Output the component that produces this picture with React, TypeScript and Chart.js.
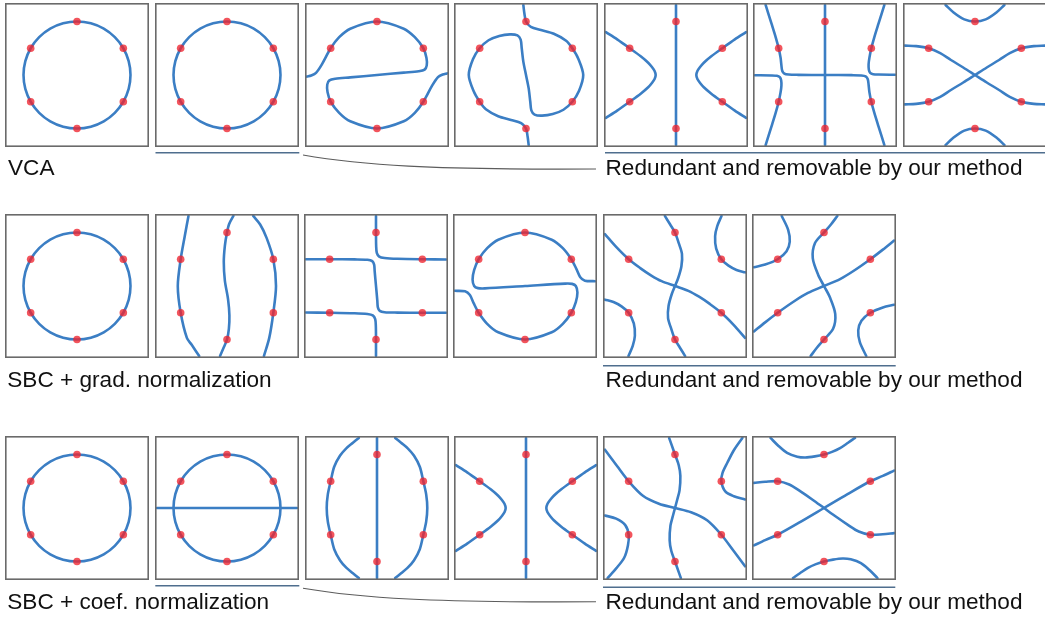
import React, { useEffect, useRef } from 'react';
import { Chart, registerables } from 'chart.js';

Chart.register(...registerables);

// ---------- data (unit: circle through the six sample points has radius 1) ----------
const HEX_POINTS = [[0, 1], [0.866, 0.5], [0.866, -0.5], [0, -1], [-0.866, -0.5], [-0.866, 0.5]];

const CIRCLE = [
  [0, 1], [0.259, 0.966], [0.5, 0.866], [0.707, 0.707], [0.866, 0.5], [0.966, 0.259],
  [1, 0], [0.966, -0.259], [0.866, -0.5], [0.707, -0.707], [0.5, -0.866], [0.259, -0.966],
  [0, -1], [-0.259, -0.966], [-0.5, -0.866], [-0.707, -0.707], [-0.866, -0.5], [-0.966, -0.259],
  [-1, 0], [-0.966, 0.259], [-0.866, 0.5], [-0.707, 0.707], [-0.5, 0.866], [-0.259, 0.966],
];

const H_LINE = [[-1.31, 0], [1.31, 0]];
const V_LINE = [[0, 1.31], [0, -1.31]];

const R1P3 = [
  [-1.31, -0.03], [-1.23, -0.01], [-1.14, 0.04], [-1.03, 0.2], [-0.866, 0.5], [-0.707, 0.707], [-0.5, 0.866], [0, 1],
  [0.5, 0.866], [0.707, 0.707], [0.866, 0.5], [0.925, 0.32], [0.93, 0.18], [0.89, 0.1], [0.78, 0.07], [0.5, 0.045],
  [0, 0], [-0.5, -0.045], [-0.78, -0.07], [-0.89, -0.1], [-0.93, -0.18], [-0.925, -0.32],
  [-0.866, -0.5], [-0.707, -0.707], [-0.5, -0.866], [0, -1], [0.5, -0.866], [0.707, -0.707], [0.866, -0.5], [1.03, -0.2], [1.14, -0.04],
  [1.23, 0.01], [1.31, 0.03],
];

const R1P4 = [
  [-0.05, 1.31], [-0.03, 1.15], [0, 1], [0.09, 0.9], [0.28, 0.84], [0.52, 0.77], [0.75, 0.64],
  [0.866, 0.5], [0.98, 0.3], [1.07, 0], [0.99, -0.3], [0.866, -0.5], [0.7, -0.65], [0.5, -0.73],
  [0.3, -0.76], [0.16, -0.74], [0.1, -0.66], [0.08, -0.5], [0.05, -0.25], [0, 0], [-0.05, 0.25],
  [-0.08, 0.5], [-0.1, 0.66], [-0.16, 0.74], [-0.3, 0.76], [-0.5, 0.73], [-0.7, 0.65], [-0.866, 0.5],
  [-0.99, 0.3], [-1.07, 0], [-0.98, -0.3], [-0.866, -0.5], [-0.75, -0.64], [-0.52, -0.77],
  [-0.28, -0.84], [-0.09, -0.9], [0, -1], [0.03, -1.15], [0.05, -1.31],
];

const HYP_L = [
  [-1.31, 0.8], [-1.1, 0.665], [-0.866, 0.5], [-0.66, 0.35], [-0.52, 0.23], [-0.45, 0.15], [-0.4, 0.075], [-0.38, 0],
  [-0.4, -0.075], [-0.45, -0.15], [-0.52, -0.23], [-0.66, -0.35], [-0.866, -0.5], [-1.1, -0.665], [-1.31, -0.8],
];
const HYP_R = [
  [1.31, 0.8], [1.1, 0.665], [0.866, 0.5], [0.66, 0.35], [0.52, 0.23], [0.45, 0.15], [0.4, 0.075], [0.38, 0],
  [0.4, -0.075], [0.45, -0.15], [0.52, -0.23], [0.66, -0.35], [0.866, -0.5], [1.1, -0.665], [1.31, -0.8],
];

const R1P6_A = [
  [-1.11, 1.31], [-1.0, 0.96], [-0.92, 0.7], [-0.866, 0.5], [-0.83, 0.32], [-0.815, 0.18], [-0.8, 0.08],
  [-0.76, 0.025], [-0.68, 0.008], [-0.5, 0.003], [0, 0], [0.5, -0.003], [0.68, -0.008], [0.76, -0.025],
  [0.8, -0.08], [0.815, -0.18], [0.83, -0.32], [0.866, -0.5], [0.92, -0.7], [1.0, -0.96], [1.11, -1.31],
];
const R1P6_B = [
  [-1.31, -0.005], [-1.0, -0.008], [-0.9, -0.015], [-0.845, -0.04], [-0.82, -0.1], [-0.815, -0.2],
  [-0.83, -0.32], [-0.866, -0.5], [-0.92, -0.7], [-1.0, -0.96], [-1.11, -1.31],
];
const R1P6_C = [
  [1.31, 0.005], [1.0, 0.008], [0.9, 0.015], [0.845, 0.04], [0.82, 0.1], [0.815, 0.2],
  [0.83, 0.32], [0.866, 0.5], [0.92, 0.7], [1.0, 0.96], [1.11, 1.31],
];

const R1P7_TOP = [[-0.55, 1.31], [-0.4, 1.17], [-0.2, 1.04], [0, 1], [0.2, 1.04], [0.4, 1.17], [0.55, 1.31]];
const R1P7_BOT = [[-0.55, -1.31], [-0.4, -1.17], [-0.2, -1.04], [0, -1], [0.2, -1.04], [0.4, -1.17], [0.55, -1.31]];
const R1P7_X1 = [
  [-1.31, 0.55], [-1.1, 0.54], [-0.866, 0.5], [-0.65, 0.41], [-0.45, 0.28], [-0.22, 0.14], [0, 0],
  [0.22, -0.14], [0.45, -0.28], [0.65, -0.41], [0.866, -0.5], [1.1, -0.54], [1.31, -0.55],
];
const R1P7_X2 = [
  [-1.31, -0.55], [-1.1, -0.54], [-0.866, -0.5], [-0.65, -0.41], [-0.45, -0.28], [-0.22, -0.14], [0, 0],
  [0.22, 0.14], [0.45, 0.28], [0.65, 0.41], [0.866, 0.5], [1.1, 0.54], [1.31, 0.55],
];

const R2P2_L = [[-0.72, 1.31], [-0.79, 0.93], [-0.866, 0.5], [-0.92, 0], [-0.866, -0.5], [-0.75, -0.97], [-0.66, -1.1], [-0.52, -1.31]];
const R2P2_M = [
  [0.12, 1.31], [0.04, 1.16], [0, 1], [-0.04, 0.75], [-0.06, 0.45], [-0.04, 0.1], [0.02, -0.25],
  [0.045, -0.55], [0.035, -0.8], [0, -1], [-0.07, -1.17], [-0.13, -1.31],
];
const R2P2_R = [[0.49, 1.31], [0.62, 1.15], [0.74, 0.9], [0.866, 0.5], [0.916, 0], [0.866, -0.5], [0.79, -0.97], [0.69, -1.31]];

const R2P3_A = [
  [-1.31, 0.5], [-0.866, 0.5], [-0.4, 0.497], [-0.16, 0.49], [-0.07, 0.465], [-0.035, 0.4], [-0.025, 0.28],
  [0, 0], [0.025, -0.28], [0.035, -0.4], [0.07, -0.465], [0.16, -0.49], [0.4, -0.497], [0.866, -0.5], [1.31, -0.5],
];
const R2P3_B = [[0, 1.31], [0, 1], [0.003, 0.75], [0.015, 0.62], [0.06, 0.55], [0.16, 0.525], [0.4, 0.51], [0.866, 0.5], [1.31, 0.495]];
const R2P3_C = [[0, -1.31], [0, -1], [-0.003, -0.75], [-0.015, -0.62], [-0.06, -0.55], [-0.16, -0.525], [-0.4, -0.51], [-0.866, -0.5], [-1.31, -0.495]];

const R2P4 = [
  [-1.31, -0.09], [-1.12, -0.1], [-1.03, -0.17], [-0.96, -0.32], [-0.866, -0.5], [-0.707, -0.707], [-0.5, -0.866], [0, -1],
  [0.5, -0.866], [0.707, -0.707], [0.866, -0.5], [0.95, -0.3], [0.98, -0.12], [0.95, 0.0], [0.88, 0.04], [0.75, 0.045],
  [0, 0], [-0.75, -0.045], [-0.88, -0.04], [-0.95, 0.0], [-0.98, 0.12], [-0.95, 0.3], [-0.866, 0.5],
  [-0.707, 0.707], [-0.5, 0.866], [0, 1], [0.5, 0.866], [0.707, 0.707], [0.866, 0.5], [0.96, 0.32], [1.03, 0.17], [1.12, 0.1], [1.31, 0.09],
];

const R2P5_D = [
  [-1.31, 0.97], [-1.1, 0.73], [-0.866, 0.5], [-0.65, 0.335], [-0.45, 0.2], [-0.25, 0.09], [0, 0],
  [0.25, -0.09], [0.45, -0.2], [0.65, -0.335], [0.866, -0.5], [1.1, -0.73], [1.31, -0.97],
];
const R2P5_S = [
  [-0.19, 1.31], [-0.09, 1.15], [0, 1], [0.07, 0.8], [0.13, 0.6], [0.12, 0.37], [0.06, 0.15], [0, 0],
  [-0.06, -0.15], [-0.12, -0.37], [-0.13, -0.6], [-0.07, -0.8], [0, -1], [0.09, -1.15], [0.19, -1.31],
];
const R2P5_UR = [[0.87, 1.31], [0.79, 1.12], [0.75, 0.93], [0.77, 0.7], [0.866, 0.5], [1.0, 0.38], [1.15, 0.3], [1.31, 0.255]];
const R2P5_LL = [[-0.87, -1.31], [-0.79, -1.12], [-0.75, -0.93], [-0.77, -0.7], [-0.866, -0.5], [-1.0, -0.38], [-1.15, -0.3], [-1.31, -0.255]];

const R2P6_D = [
  [-1.31, -0.85], [-1.1, -0.68], [-0.866, -0.5], [-0.55, -0.28], [-0.3, -0.13], [0, 0],
  [0.3, 0.13], [0.55, 0.28], [0.866, 0.5], [1.1, 0.68], [1.31, 0.85],
];
const R2P6_S = [
  [0.25, 1.31], [0.13, 1.15], [0, 1], [-0.17, 0.8], [-0.21, 0.52], [-0.11, 0.21], [0, 0],
  [0.11, -0.21], [0.21, -0.52], [0.17, -0.8], [0, -1], [-0.13, -1.15], [-0.25, -1.31],
];
const R2P6_UL = [[-0.79, 1.31], [-0.67, 1.05], [-0.64, 0.83], [-0.7, 0.65], [-0.866, 0.5], [-1.1, 0.4], [-1.31, 0.35]];
const R2P6_LR = [[0.79, -1.31], [0.67, -1.05], [0.64, -0.83], [0.7, -0.65], [0.866, -0.5], [1.1, -0.4], [1.31, -0.35]];

const R3P3_L = [
  [-0.34, 1.31], [-0.45, 1.22], [-0.57, 1.12], [-0.69, 0.98], [-0.8, 0.77], [-0.866, 0.5], [-0.92, 0.25],
  [-0.94, 0], [-0.92, -0.25], [-0.866, -0.5], [-0.8, -0.77], [-0.69, -0.98], [-0.57, -1.12], [-0.45, -1.22], [-0.34, -1.31],
];
const R3P3_R = [
  [0.34, 1.31], [0.45, 1.22], [0.57, 1.12], [0.69, 0.98], [0.8, 0.77], [0.866, 0.5], [0.92, 0.25],
  [0.94, 0], [0.92, -0.25], [0.866, -0.5], [0.8, -0.77], [0.69, -0.98], [0.57, -1.12], [0.45, -1.22], [0.34, -1.31],
];

const R3P5_D = [
  [-1.31, 1.09], [-1.08, 0.78], [-0.866, 0.5], [-0.6, 0.23], [-0.3, 0.08], [0, 0],
  [0.3, -0.08], [0.6, -0.23], [0.866, -0.5], [1.08, -0.78], [1.31, -1.09],
];
const R3P5_S = [
  [-0.11, 1.31], [-0.06, 1.17], [0, 1], [0.07, 0.8], [0.1, 0.6], [0.085, 0.33], [0.04, 0.15], [0, 0],
  [-0.04, -0.15], [-0.085, -0.33], [-0.1, -0.6], [-0.07, -0.8], [0, -1], [0.06, -1.17], [0.11, -1.31],
];
const R3P5_UR = [[1.26, 1.31], [1.1, 1.08], [0.98, 0.85], [0.89, 0.66], [0.866, 0.5], [0.94, 0.31], [1.1, 0.22], [1.31, 0.16]];
const R3P5_LL = [[-1.31, -0.14], [-1.1, -0.2], [-0.93, -0.32], [-0.866, -0.5], [-0.88, -0.7], [-0.95, -0.93], [-1.1, -1.13], [-1.26, -1.31]];

const R3P6_TOP = [
  [-1.0, 1.31], [-0.85, 1.16], [-0.69, 1.03], [-0.5, 0.96], [-0.35, 0.945], [-0.17, 0.965], [0, 1],
  [0.15, 1.05], [0.3, 1.12], [0.45, 1.22], [0.58, 1.31],
];
const R3P6_BOT = [
  [1.0, -1.31], [0.85, -1.16], [0.69, -1.03], [0.5, -0.96], [0.35, -0.945], [0.17, -0.965], [0, -1],
  [-0.15, -1.05], [-0.3, -1.12], [-0.45, -1.22], [-0.58, -1.31],
];
const R3P6_X1 = [
  [-1.31, 0.47], [-1.1, 0.49], [-0.866, 0.5], [-0.65, 0.44], [-0.44, 0.31], [-0.22, 0.16], [0, 0],
  [0.22, -0.16], [0.44, -0.31], [0.65, -0.44], [0.866, -0.5], [1.1, -0.49], [1.31, -0.47],
];
const R3P6_X2 = [
  [-1.31, -0.7], [-1.1, -0.6], [-0.866, -0.5], [-0.44, -0.26], [0, 0], [0.44, 0.26], [0.866, 0.5], [1.1, 0.6], [1.31, 0.7],
];

const ROW_LABELS = ['VCA', 'SBC + grad. normalization', 'SBC + coef. normalization'];
const NOTE_LABEL = 'Redundant and removable by our method';

// ---------- panel contents ----------
type Curve = { pts: number[][]; closed?: boolean; tension?: number };
const circ: Curve = { pts: CIRCLE, closed: true, tension: 0.18 };
const c = (pts: number[][], tension = 0.3): Curve => ({ pts, tension });

const ROWS: Curve[][][] = [
  [
    [circ],
    [circ],
    [c(R1P3)],
    [c(R1P4)],
    [c(V_LINE), c(HYP_L), c(HYP_R)],
    [c(V_LINE), c(R1P6_A), c(R1P6_B), c(R1P6_C)],
    [c(R1P7_TOP), c(R1P7_BOT), c(R1P7_X1), c(R1P7_X2)],
  ],
  [
    [circ],
    [c(R2P2_L), c(R2P2_M), c(R2P2_R)],
    [c(R2P3_A), c(R2P3_B), c(R2P3_C)],
    [c(R2P4)],
    [c(R2P5_D), c(R2P5_S), c(R2P5_UR), c(R2P5_LL)],
    [c(R2P6_D), c(R2P6_S), c(R2P6_UL), c(R2P6_LR)],
  ],
  [
    [circ],
    [circ, c(H_LINE)],
    [c(V_LINE), c(R3P3_L), c(R3P3_R)],
    [c(V_LINE), c(HYP_L), c(HYP_R)],
    [c(R3P5_D), c(R3P5_S), c(R3P5_UR), c(R3P5_LL)],
    [c(R3P6_TOP), c(R3P6_BOT), c(R3P6_X1), c(R3P6_X2)],
  ],
];

// ---------- layout ----------
const PANEL = 144;
const RANGE = 1.346;
const ROW_TOPS = [3, 214, 436];
const ROW_LEFTS = [
  [5, 155, 305, 454, 604, 753, 903],
  [5, 155, 304, 453, 603, 752],
  [5, 155, 305, 454, 603, 752],
];

const BLUE = '#3b7ec4';
const RED = 'rgba(238,36,46,0.78)';
const RULE = '#4f6e8e';

const framePlugin = {
  id: 'frame',
  afterDraw(chart: any) {
    const ctx = chart.ctx;
    ctx.save();
    ctx.strokeStyle = '#6a6a6a';
    ctx.lineWidth = 1.6;
    ctx.strokeRect(0.8, 0.8, chart.width - 1.6, chart.height - 1.6);
    ctx.restore();
  },
};

function Panel({ left, top, curves }: { left: number; top: number; curves: Curve[] }) {
  const ref = useRef<HTMLCanvasElement | null>(null);
  useEffect(() => {
    const datasets: any[] = [
      {
        data: HEX_POINTS.map(([x, y]) => ({ x, y })),
        showLine: false,
        pointRadius: 3.8,
        pointBackgroundColor: RED,
        pointBorderWidth: 0,
        pointHoverRadius: 3.8,
      },
    ];
    for (const cv of curves) {
      const n = cv.pts.length;
      const pts = cv.closed ? [cv.pts[n - 1], ...cv.pts, cv.pts[0], cv.pts[1]] : cv.pts;
      const lastSeg = pts.length - 2;
      const ds: any = {
        data: pts.map(([x, y]) => ({ x, y })),
        showLine: true,
        pointRadius: 0,
        pointHoverRadius: 0,
        borderColor: BLUE,
        borderWidth: 2.6,
        borderCapStyle: 'round',
        borderJoinStyle: 'round',
        tension: cv.tension ?? 0.3,
        cubicInterpolationMode: 'default',
        fill: false,
      };
      if (cv.closed) {
        ds.segment = {
          borderColor: (ctx: any) =>
            ctx.p0DataIndex === 0 || ctx.p0DataIndex === lastSeg ? 'rgba(0,0,0,0)' : BLUE,
        };
      }
      datasets.push(ds);
    }
    const chart = new Chart(ref.current as HTMLCanvasElement, {
      type: 'line',
      data: { datasets },
      options: {
        responsive: false,
        maintainAspectRatio: false,
        animation: false,
        devicePixelRatio: 1,
        events: [],
        layout: { autoPadding: false, padding: 0 },
        elements: { line: { capBezierPoints: false, tension: 0.3 } },
        plugins: { legend: { display: false }, tooltip: { enabled: false }, title: { display: false } },
        scales: {
          x: { type: 'linear', min: -RANGE, max: RANGE, display: false },
          y: { type: 'linear', min: -RANGE, max: RANGE, display: false },
        },
      } as any,
      plugins: [framePlugin],
    });
    return () => chart.destroy();
  }, [curves]);
  return (
    <canvas
      ref={ref}
      width={PANEL}
      height={PANEL}
      style={{ position: 'absolute', left, top, width: PANEL, height: PANEL }}
    />
  );
}

const FONT = '"Liberation Sans", Arial, Helvetica, sans-serif';

export default function App() {
  return (
    <div
      style={{
        position: 'fixed',
        left: 0,
        top: 0,
        width: 1045,
        height: 620,
        overflow: 'hidden',
        background: '#fff',
      }}
    >
      {ROWS.map((row, r) =>
        row.map((curves, i) => (
          <Panel key={`${r}-${i}`} left={ROW_LEFTS[r][i]} top={ROW_TOPS[r]} curves={curves} />
        ))
      )}
      <svg width={1045} height={620} style={{ position: 'absolute', left: 0, top: 0 }}>
        <g stroke={RULE} strokeWidth={1.5}>
          <line x1={155.5} y1={152.75} x2={299.3} y2={152.75} />
          <line x1={605} y1={152.75} x2={1045} y2={152.75} />
          <line x1={603} y1={365.75} x2={895.7} y2={365.75} />
          <line x1={155.3} y1={585.75} x2={299.3} y2={585.75} />
          <line x1={603} y1={587.25} x2={895.3} y2={587.25} />
        </g>
        <g stroke="#5c5c5c" strokeWidth={1.1} fill="none">
          <path d="M303,155 C360,165 430,170 596,169" />
          <path d="M303,588.3 C360,598 430,602.8 596,601.8" />
        </g>
        <g fontFamily={FONT} fontSize={22.6} fill="#111">
          <text x={8} y={174.5}>{ROW_LABELS[0]}</text>
          <text x={7.3} y={387}>{ROW_LABELS[1]}</text>
          <text x={7.3} y={608.5}>{ROW_LABELS[2]}</text>
          <text x={605.5} y={175}>{NOTE_LABEL}</text>
          <text x={605.5} y={387}>{NOTE_LABEL}</text>
          <text x={605.5} y={608.5}>{NOTE_LABEL}</text>
        </g>
      </svg>
    </div>
  );
}
